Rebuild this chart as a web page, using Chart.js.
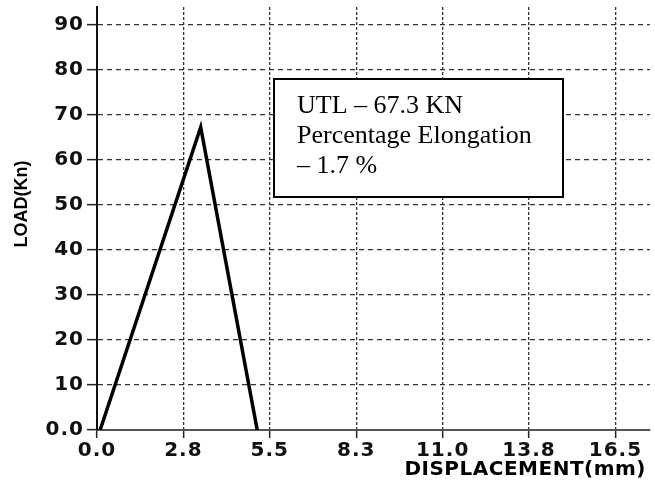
<!DOCTYPE html>
<html>
<head>
<meta charset="utf-8">
<script src="https://cdn.jsdelivr.net/npm/chart.js@4.4.0/dist/chart.umd.min.js"></script>
<style>
html, body { margin: 0; padding: 0; background: #fff; }
</style>
</head>
<body>
<canvas id="loadChart" width="655" height="483"></canvas>
<script>
const displacement = [0.1, 3.3, 5.1]
const load = [0, 67.3, 0]

const xTickValues = [0, 2.75, 5.5, 8.25, 11, 13.75, 16.5]
const xTickLabels = ['0.0', '2.8', '5.5', '8.3', '11.0', '13.8', '16.5']
const yTickValues = [0, 10, 20, 30, 40, 50, 60, 70, 80, 90]
const yTickLabels = ['0.0', '10', '20', '30', '40', '50', '60', '70', '80', '90']

const noteLines = ['UTL \u2013 67.3 KN', 'Percentage Elongation', '\u2013 1.7 %']

const points = []
for (let i = 0; i < displacement.length; i++) {
    points.push({ x: displacement[i], y: load[i] })
}

// titles and the note box
const extras = {
    id: 'extras',
    beforeDraw(chart) {
        chart.ctx.letterSpacing = '1px'
    },
    afterDraw(chart) {
        const ctx = chart.ctx
        ctx.save()
        ctx.letterSpacing = '0px'

        ctx.fillStyle = '#fff'
        ctx.fillRect(274, 79, 289, 118)
        ctx.strokeStyle = '#000'
        ctx.lineWidth = 2
        ctx.strokeRect(274, 79, 289, 118)

        ctx.fillStyle = '#000'
        ctx.font = '26px "Liberation Serif"'
        ctx.textAlign = 'left'
        ctx.textBaseline = 'alphabetic'
        noteLines.forEach((t, i) => ctx.fillText(t, 297, 113 + i * 30))

        ctx.font = 'bold 18px "Liberation Sans"'
        ctx.textAlign = 'center'
        ctx.textBaseline = 'middle'
        ctx.save()
        ctx.translate(22, 204)
        ctx.rotate(-Math.PI / 2)
        ctx.fillText('LOAD(Kn)', 0, 0)
        ctx.restore()

        ctx.letterSpacing = '0.5px'
        ctx.font = 'bold 20px "DejaVu Sans"'
        ctx.textAlign = 'right'
        ctx.fillText('DISPLACEMENT(mm)', 646, 470)
        ctx.restore()
    }
}

const ctx = document.getElementById('loadChart').getContext('2d')
const loadChart = new Chart(ctx, {
    type: 'line',
    data: {
        datasets: [{
            data: points,
            borderColor: '#000',
            borderWidth: 3.5,
            pointRadius: 0,
            tension: 0,
            fill: false
        }]
    },
    options: {
        responsive: false,
        animation: false,
        layout: { padding: { top: 7, right: 5, left: 0, bottom: 0 } },
        plugins: { legend: { display: false }, tooltip: { enabled: false } },
        scales: {
            x: {
                type: 'linear',
                min: 0,
                max: 17.6,
                afterBuildTicks: (s) => { s.ticks = xTickValues.map(v => ({ value: v })) },
                afterFit: (s) => { s.height = 53 },
                ticks: {
                    autoSkip: false,
                    maxRotation: 0,
                    padding: 1,
                    color: '#111',
                    font: { family: 'DejaVu Sans', size: 20, weight: 'bold' },
                    callback: (v, i) => xTickLabels[i]
                },
                grid: {
                    color: '#333',
                    lineWidth: 1.3,
                    tickLength: 8,
                    tickColor: '#222',
                    tickWidth: 1.5,
                    tickBorderDash: []
                },
                border: { color: '#555', width: 2, dash: [3, 2] }
            },
            y: {
                min: 0,
                max: 94,
                afterBuildTicks: (s) => { s.ticks = yTickValues.map(v => ({ value: v })) },
                afterFit: (s) => {
                    s.width = 97
                    s.paddingTop = 0
                    s.paddingBottom = 0
                },
                ticks: {
                    autoSkip: false,
                    padding: 3,
                    color: '#111',
                    font: { family: 'DejaVu Sans', size: 20, weight: 'bold' },
                    callback: (v, i) => yTickLabels[i]
                },
                grid: {
                    color: '#333',
                    lineWidth: 1.3,
                    tickLength: 10,
                    tickColor: '#222',
                    tickWidth: 1.5,
                    tickBorderDash: []
                },
                border: { color: '#111', width: 2, dash: [5, 4] }
            }
        }
    },
    plugins: [extras]
});
</script>
</body>
</html>
